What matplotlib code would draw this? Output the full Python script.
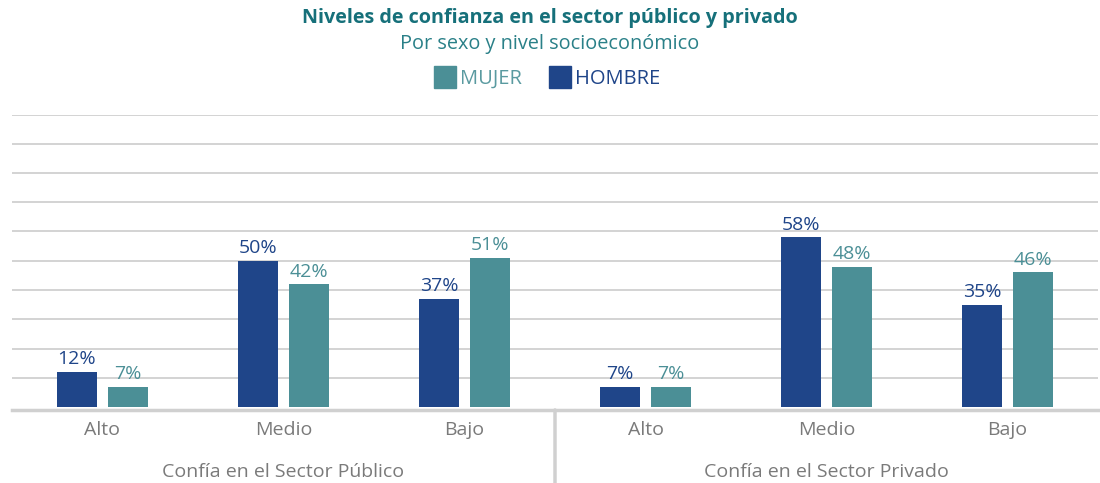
import matplotlib.pyplot as plt
from matplotlib.lines import Line2D

plt.rcParams["font.family"] = ["Open Sans", "DejaVu Sans"]

groups = ["Confía en el Sector Público", "Confía en el Sector Privado"]
levels = ["Alto", "Medio", "Bajo", "Alto", "Medio", "Bajo"]
hombre = [12, 50, 37, 7, 58, 35]
mujer = [7, 42, 51, 7, 48, 46]

C_HOMBRE = "#1F4589"
C_MUJER = "#4B8F96"
C_TITLE = "#16707A"
C_GRID = "#D0D0D0"
C_LABEL = "#7A7A7A"

fig = plt.figure(figsize=(11, 4.83), dpi=100)
ax = fig.add_axes([12 / 1100, 1 - 407 / 483, 1086 / 1100, (407 - 114.5) / 483])

x = list(range(len(levels)))
off, w = 0.141, 0.221
ax.bar([i - off for i in x], hombre, width=w, color=C_HOMBRE, zorder=3)
ax.bar([i + off for i in x], mujer, width=w, color=C_MUJER, zorder=3)

for i, v in enumerate(hombre):
    ax.text(i - off, v + 1.2, f"{v}%", ha="center", va="bottom", fontsize=14, color=C_HOMBRE)
for i, v in enumerate(mujer):
    ax.text(i + off, v + 1.2, f"{v}%", ha="center", va="bottom", fontsize=14, color=C_MUJER)

for g in range(10, 101, 10):
    ax.axhline(g, color=C_GRID, lw=1.3, zorder=1)
ax.axhline(-1, color=C_GRID, lw=2.5, zorder=1, clip_on=False)

ax.set_xlim(-0.5, len(levels) - 0.5)
ax.set_ylim(0, 100)
ax.axis("off")

# category labels and group labels below the axis
for i, lab in enumerate(levels):
    ax.annotate(lab, (i, 0), xytext=(0, -23), textcoords="offset pixels",
                ha="center", va="center", fontsize=14, color=C_LABEL, annotation_clip=False)
for k, g in enumerate(groups):
    ax.annotate(g, (k * 3 + 1, 0), xytext=(0, -65), textcoords="offset pixels",
                ha="center", va="center", fontsize=14, color=C_LABEL, annotation_clip=False)
ax.annotate("", xy=(2.5, -1), xytext=(2.5, -26), textcoords=("data", "data"),
            arrowprops=dict(arrowstyle="-", color=C_GRID, lw=2.5, shrinkA=0, shrinkB=0),
            annotation_clip=False)

fig.text(0.5, 1 - 18 / 483, "Niveles de confianza en el sector público y privado",
         ha="center", va="center", fontsize=14.2, fontweight="bold", color=C_TITLE)
fig.text(0.5, 1 - 44 / 483, "Por sexo y nivel socioeconómico",
         ha="center", va="center", fontsize=14.3, color="#2A8088")

handles = [Line2D([], [], marker="s", ls="", markersize=16, color=C_MUJER),
           Line2D([], [], marker="s", ls="", markersize=16, color=C_HOMBRE)]
leg = fig.legend(handles, ["MUJER", "HOMBRE"], ncol=2, loc="center",
                 bbox_to_anchor=(0.497, 1 - 79 / 483), frameon=False, fontsize=14.5,
                 handletextpad=0.15, columnspacing=1.3, handlelength=1.2)
leg.get_texts()[0].set_color("#5A9AA0")
leg.get_texts()[1].set_color(C_HOMBRE)

fig.savefig("out.png", dpi=100, facecolor="white")
